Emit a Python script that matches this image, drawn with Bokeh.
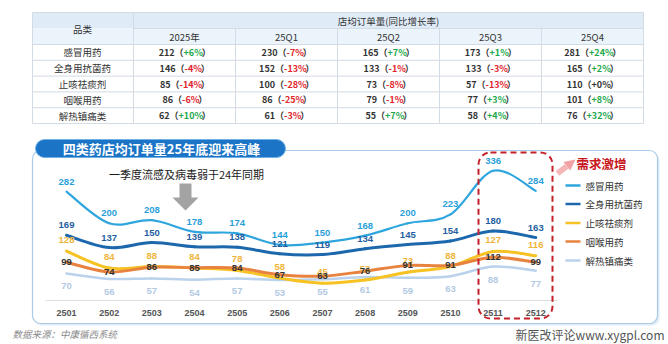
import numpy as np
from bokeh.plotting import figure
from bokeh.models import Range1d, BoxAnnotation, Arrow, NormalHead
from bokeh.core.properties import value
from bokeh.embed import file_html
from bokeh.resources import INLINE

# ---------------- data ----------------
months = ["2501", "2502", "2503", "2504", "2505", "2506",
          "2507", "2508", "2509", "2510", "2511", "2512"]
series_names = ["感冒用药", "全身用抗菌药", "止咳祛痰剂", "咽喉用药", "解热镇痛类"]
cold = [282, 200, 208, 178, 174, 144, 150, 168, 200, 223, 336, 284]
antibac = [169, 137, 150, 139, 138, 121, 119, 134, 145, 154, 180, 163]
cough = [128, 84, 88, 84, 78, 58, 45, 53, 73, 88, 127, 116]
throat = [99, 74, 86, 85, 84, 67, 63, 76, 91, 91, 112, 99]
analgesic = [70, 56, 57, 54, 57, 53, 55, 61, 59, 63, 88, 77]

table_periods = ["2025年", "25Q1", "25Q2", "25Q3", "25Q4"]
table_orders = [
    [212, 230, 165, 173, 281],
    [146, 152, 133, 133, 165],
    [85, 100, 73, 57, 110],
    [86, 86, 79, 77, 101],
    [62, 61, 55, 58, 76],
]
table_growth = [
    [6, -7, 7, 1, 24],
    [-4, -13, -1, -3, 2],
    [-14, -28, -8, -13, 0],
    [-6, -25, -1, 3, 8],
    [10, -3, 7, 4, 32],
]

# ---------------- canvas mapping (pixels -> data) ----------------
W, H = 668, 344
KX, X0 = 42.66, 66.0
KY, Y0 = 0.386, 300.0


def X(px):
    return (px - X0) / KX


def Y(py):
    return (Y0 - py) / KY


CJK = value("Noto Sans CJK SC")
NUM = value("Liberation Sans")

p = figure(width=W, height=H, x_range=Range1d(X(0), X(W)), y_range=Range1d(Y(H), Y(0)),
           output_backend="svg", toolbar_location=None, min_border=0,
           x_axis_location=None, y_axis_location=None, outline_line_color=None,
           background_fill_color="white", border_fill_color="white")
p.xgrid.visible = False
p.ygrid.visible = False


def txt(px, py, s, size, color="#333333", font=CJK, style="normal", align="center", baseline="middle"):
    p.text(x=[X(px)], y=[Y(py)], text=[s], text_font=font, text_font_size=value(f"{size}px"),
           text_font_style=style, text_color=color, text_align=align, text_baseline=baseline)


# ---------------- table ----------------
tl, tr, tt, tb = 32, 643, 12, 123
col_edges = [133, 235, 337, 439, 541, 643]
row_edges = [44 + 15.8 * k for k in range(6)]
p.quad(left=[X(tl)], right=[X(tr)], top=[Y(tt)], bottom=[Y(28)], fill_color="#dfebf7", line_color=None)
p.quad(left=[X(tl)], right=[X(tr)], top=[Y(28)], bottom=[Y(44)], fill_color="#ebf3fb", line_color=None)
gc = "#d3dbe4"
hx0, hx1, hy = [], [], []
for yy in [tt] + row_edges:
    hx0.append(X(tl)); hx1.append(X(tr)); hy.append(Y(yy))
hx0.append(X(133)); hx1.append(X(tr)); hy.append(Y(28))
p.segment(x0=hx0, x1=hx1, y0=hy, y1=hy, line_color=gc, line_width=1)
vx, vy0, vy1 = [X(tl), X(tr), X(133)], [Y(tt)] * 3, [Y(tb)] * 3
for ce in col_edges[1:-1]:
    vx.append(X(ce)); vy0.append(Y(28)); vy1.append(Y(tb))
p.segment(x0=vx, x1=vx, y0=vy0, y1=vy1, line_color=gc, line_width=1)

txt(82, 28, "品类", 9.5, "#333333")
txt(388, 20, "店均订单量(同比增长率)", 9.5, "#333333")
centers = [(col_edges[i] + col_edges[i + 1]) / 2 for i in range(5)]
for c, per in zip(centers, table_periods):
    txt(c, 36.5, per, 9.5, "#333333")

CW = {"+": 0.58, "-": 0.36, "%": 0.89}
fs = 9.0
for r, name in enumerate(series_names):
    cy = (row_edges[r] + row_edges[r + 1]) / 2
    txt(82, cy, name, 9.5, "#333333")
    for c, num, g in zip(centers, table_orders[r], table_growth[r]):
        pct = f"{g:+d}%"
        col = "#333333" if g == 0 else ("#1da84c" if g > 0 else "#e0242c")
        numw = len(str(num)) * 0.556 * fs
        pctw = sum(CW.get(ch, 0.556) for ch in pct) * fs
        total = numw + 0.65 * fs + pctw + 0.5 * fs
        a = c - total / 2 + numw + 0.65 * fs
        txt(a, cy, f"{num}（", fs, "#333333", style="bold", align="right")
        txt(a, cy, pct, fs, col, style="bold", align="left")
        txt(a + pctw, cy, "）", fs, "#333333", style="bold", align="left")

# ---------------- chart panel ----------------
p.add_layout(BoxAnnotation(left=X(34), right=X(659), top=Y(152), bottom=Y(325), fill_color="#d4e4f3",
                           fill_alpha=0.7, line_color=None, border_radius=8, level="underlay"))
p.add_layout(BoxAnnotation(left=X(32), right=X(657), top=Y(150), bottom=Y(323), fill_color="white",
                           fill_alpha=1, line_color="#a9cbe9", line_alpha=1, line_width=1.2,
                           border_radius=8, level="underlay"))
p.add_layout(BoxAnnotation(left=X(35), right=X(285), top=Y(139), bottom=Y(157), fill_color="#1c74c6",
                           fill_alpha=1, line_color="#6fb0e6", line_alpha=1, line_width=1,
                           border_radius=9, level="underlay"))
txt(161, 148, "四类药店均订单量25年底迎来高峰", 13, "white", style="bold")

# axis baseline
p.segment(x0=[X(45)], x1=[X(557)], y0=[0], y1=[0], line_color="#dddddd", line_width=1)

idx = np.arange(len(months))
p.text(x=idx, y=np.zeros(len(months)), text=months, y_offset=12, text_font=NUM,
       text_font_size=value("9px"), text_font_style="bold", text_color="#555555",
       text_align="center", text_baseline="middle")


def bezier(vals):
    P = np.asarray(vals, dtype=float)
    xs = idx.astype(float)
    Pm = np.concatenate([[P[0]], P, [P[-1]]])
    Xm = np.concatenate([[xs[0]], xs, [xs[-1]]])
    n = len(P) - 1
    i = np.arange(n)
    return dict(
        x0=xs[:-1], y0=P[:-1], x1=xs[1:], y1=P[1:],
        cx0=xs[:-1] + (Xm[i + 2] - Xm[i]) / 6, cy0=P[:-1] + (Pm[i + 2] - Pm[i]) / 6,
        cx1=xs[1:] - (Xm[i + 3] - Xm[i + 1]) / 6, cy1=P[1:] - (Pm[i + 3] - Pm[i + 1]) / 6,
    )


series = [cold, antibac, cough, throat, analgesic]
line_colors = ["#2ea6dd", "#1d68ad", "#f6c224", "#e8833f", "#bad2eb"]
line_widths = [2.2, 3, 3, 3, 2.5]
label_colors = ["#2b9fd9", "#1f5f9f", "#efb53a", "#333333", "#b3cae3"]
label_offsets = [-10, -10, -11, 0, 13]

for k in [4, 2, 3, 1, 0]:
    p.bezier(**bezier(series[k]), line_color=line_colors[k], line_width=line_widths[k], line_cap="round")

for k in [4, 2, 3, 1, 0]:
    p.text(x=idx, y=series[k], text=[str(v) for v in series[k]], y_offset=label_offsets[k],
           text_font=NUM, text_font_size=value("9.5px"), text_font_style="bold",
           text_color=label_colors[k], text_align="center", text_baseline="middle")

# annotation text + gray arrow
txt(186, 173, "一季度流感及病毒弱于24年同期", 11, "#1a1a1a")
ax = [179, 191, 191, 198, 185, 172, 179]
ay = [183, 183, 197, 197, 210, 197, 197]
p.patch(x=[X(v) for v in ax], y=[Y(v) for v in ay], fill_color="#a3a3a3", line_color=None)

# highlight box
p.add_layout(BoxAnnotation(left=X(478), right=X(552), top=Y(152), bottom=Y(318), fill_alpha=0,
                           line_color="#c4202a", line_alpha=1, line_width=2, line_dash="6 4",
                           border_radius=12))
p.add_layout(Arrow(end=NormalHead(size=11, fill_color="#f2a3a6", line_color=None),
                   x_start=X(557), y_start=Y(173), x_end=X(575), y_end=Y(159),
                   line_color="#f5b6b8", line_width=6))
txt(601, 163, "需求激增", 12.5, "#c8161d", style="bold")

# legend
leg_y = [185, 203.5, 222.5, 241, 260]
p.segment(x0=[X(565)] * 5, x1=[X(580)] * 5, y0=[Y(v) for v in leg_y], y1=[Y(v) for v in leg_y],
          line_color=line_colors, line_width=2.5)
p.text(x=[X(585)] * 5, y=[Y(v) for v in leg_y], text=series_names, text_font=CJK,
       text_font_size=value("9.5px"), text_color="#333333", text_align="left", text_baseline="middle")

# footer
txt(12, 333, "数据来源：中康循西系统", 9.5, "#8a8a8a", style="italic", align="left")
txt(664, 334, "新医改评论www.xygpl.com", 12, "#555555", align="right")

open("out.html", "w").write(file_html(p, INLINE))
